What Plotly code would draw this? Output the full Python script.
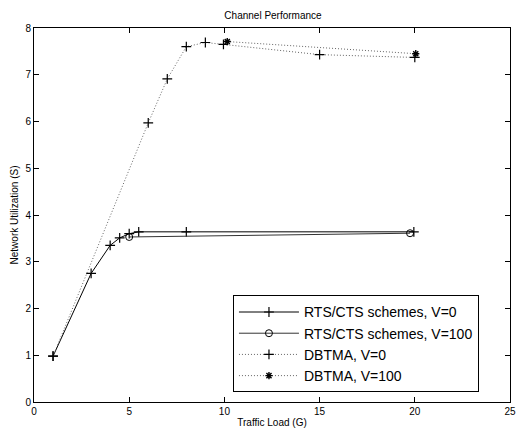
import plotly.graph_objects as go

# Data
rts_v0_x = [1, 3, 4, 4.5, 5, 5.5, 8, 19.95]
rts_v0_y = [0.98, 2.75, 3.35, 3.51, 3.60, 3.64, 3.64, 3.64]

rts_v100_x = [5.0, 19.75]
rts_v100_y = [3.53, 3.61]

dbtma_v0_x = [1, 6, 7, 8, 9, 9.95, 15, 20]
dbtma_v0_y = [0.98, 5.97, 6.91, 7.60, 7.69, 7.65, 7.43, 7.37]

dbtma_v100_x = [10.15, 20.05]
dbtma_v100_y = [7.71, 7.45]

series_names = ["RTS/CTS schemes, V=0", "RTS/CTS schemes, V=100",
                "DBTMA, V=0", "DBTMA, V=100"]

x_ticks = [0, 5, 10, 15, 20, 25]
y_ticks = [0, 1, 2, 3, 4, 5, 6, 7, 8]

FONT = "Liberation Sans, Arial, Helvetica, sans-serif"
DOT = "1px,2px"

fig = go.Figure()
fig.add_trace(go.Scatter(
    x=rts_v0_x, y=rts_v0_y, name=series_names[0], mode="lines+markers",
    line=dict(color="black", width=1),
    marker=dict(symbol="cross-thin", size=7, line=dict(color="black", width=1.2))))
fig.add_trace(go.Scatter(
    x=rts_v100_x, y=rts_v100_y, name=series_names[1], mode="lines+markers",
    line=dict(color="#333333", width=1),
    marker=dict(symbol="circle-open", size=7, color="black", line=dict(width=1))))
fig.add_trace(go.Scatter(
    x=dbtma_v0_x, y=dbtma_v0_y, name=series_names[2], mode="lines+markers",
    line=dict(color="#666666", width=1, dash=DOT),
    marker=dict(symbol="cross-thin", size=7, line=dict(color="black", width=1.2))))
fig.add_trace(go.Scatter(
    x=dbtma_v100_x, y=dbtma_v100_y, name=series_names[3], mode="lines+markers",
    line=dict(color="#666666", width=1, dash=DOT),
    marker=dict(symbol="asterisk-open", size=6, color="black",
                line=dict(color="black", width=1.4))))

axis_common = dict(
    showgrid=False, zeroline=False, showline=True, linecolor="black", linewidth=1,
    mirror="allticks", ticks="inside", ticklen=5, tickcolor="black",
    tickfont=dict(family=FONT, size=10, color="black"), automargin=False,
)

fig.update_layout(
    width=520, height=431,
    margin=dict(l=34, r=10, t=28, b=29, autoexpand=False),
    paper_bgcolor="white", plot_bgcolor="white",
    font=dict(family=FONT, size=10, color="black"),
    title=dict(text="Channel Performance", x=0.525, xanchor="center",
               y=0.965, yanchor="middle", font=dict(family=FONT, size=10),
               automargin=False),
    xaxis=dict(range=[0, 25], tickvals=x_ticks,
               title=dict(text="Traffic Load (G)", font=dict(family=FONT, size=10), standoff=2),
               **axis_common),
    yaxis=dict(range=[0, 8], tickvals=y_ticks,
               title=dict(text="Network Utilization (S)", font=dict(family=FONT, size=10), standoff=4),
               **axis_common),
    legend=dict(x=0.418, y=0.285, xanchor="left", yanchor="top",
                bordercolor="black", borderwidth=1, bgcolor="white",
                font=dict(family=FONT, size=14), tracegroupgap=0,
                itemwidth=60),
    showlegend=True,
)

fig.write_html(
    "out.html",
    config={"displayModeBar": False},
    post_script="document.body.style.margin='0';document.body.style.overflow='hidden';",
)
